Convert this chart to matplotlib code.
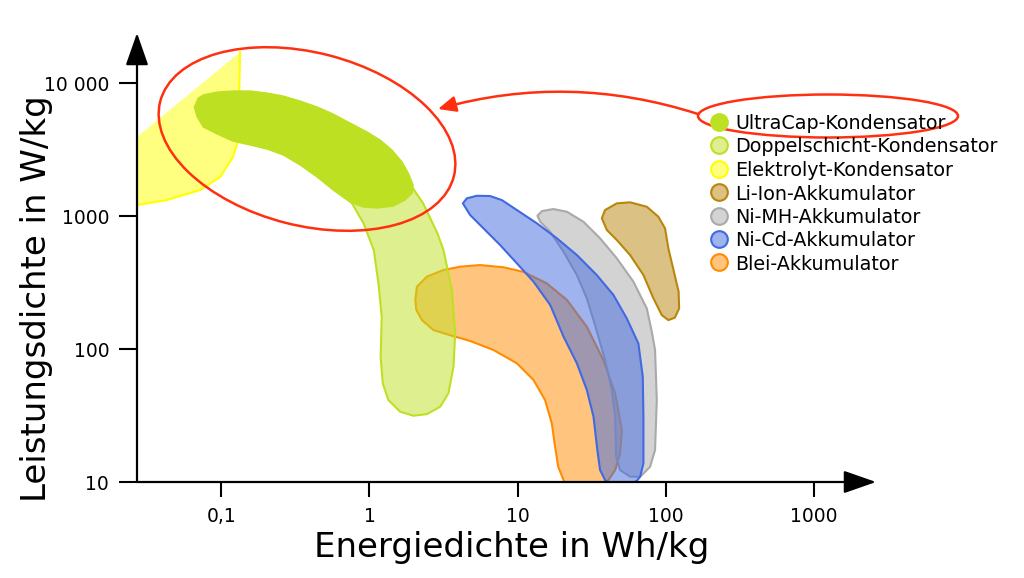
import matplotlib
matplotlib.use("Agg")
import matplotlib.pyplot as plt
from matplotlib.colors import to_rgba
from matplotlib.patches import Polygon, Ellipse, FancyArrowPatch

# Umrisse der Bereiche: Energiedichte (Wh/kg) und Leistungsdichte (W/kg)
ultracap_e = [0.0757, 0.094, 0.120, 0.157, 0.204, 0.262, 0.341, 0.445, 0.569,
              0.741, 0.966, 1.18, 1.42, 1.66, 1.83, 1.97, 1.94, 1.74, 1.45,
              1.13, 0.908, 0.741, 0.569, 0.445, 0.341, 0.262, 0.204, 0.157,
              0.120, 0.094, 0.0757, 0.0689, 0.0658, 0.070]
ultracap_p = [8130, 8560, 8710, 8710, 8410, 7980, 7320, 6600, 5850, 5000,
              4280, 3730, 3130, 2550, 2100, 1710, 1490, 1320, 1190, 1150,
              1170, 1270, 1570, 1960, 2420, 2880, 3190, 3420, 3660, 4140,
              4670, 5550, 6600, 7710]

doppel_e = [0.34, 0.867, 1.49, 1.74, 1.94, 2.30, 2.87, 3.16, 3.60, 3.79,
            3.69, 3.41, 3.00, 2.44, 1.98, 1.61, 1.34, 1.23, 1.19, 1.21, 1.15,
            1.07, 0.91, 0.74, 0.543, 0.398]
doppel_p = [5270, 3730, 2420, 2030, 1650, 1250, 745, 555, 278, 131, 73.6,
            46.4, 36.8, 32.4, 31.5, 33.8, 41.4, 55.2, 87.5, 175, 312, 555,
            886, 1320, 1870, 2640]

# die ersten sieben Punkte bilden den sichtbaren Rand
elko_e = [0.027, 0.043, 0.072, 0.098, 0.12, 0.13, 0.134, 0.027]
elko_p = [1210, 1320, 1570, 1960, 2780, 3730, 17100, 3930]

liion_e = [37.0, 38.9, 46.7, 57.4, 74.4, 89.1, 98.8, 104, 112, 122, 123, 115,
           104, 93.9, 82.4, 70.6, 57.4, 46.7, 40.0]
liion_p = [961, 1110, 1246, 1268, 1175, 988, 808, 572, 404, 270, 202, 172,
           165, 180, 241, 360, 509, 660, 785]

nimh_e = [13.6, 14.6, 17.4, 21.5, 27.8, 36.0, 46.7, 60.4, 74.4, 80.4, 84.6,
          86.9, 84.6, 78.3, 67.1, 57.4, 49.1, 46.2, 45.5, 43.2, 38.9, 33.3,
          29.3, 25.1, 20.4, 16.6, 14.2]
nimh_p = [1005, 1090, 1129, 1077, 906, 680, 481, 321, 202, 135, 98.3, 41.4,
          17.4, 13.0, 10.96, 10.96, 12.3, 15.5, 31.0, 49.2, 82.7, 151, 241,
          360, 539, 762, 906]

nicd_e = [4.27, 4.54, 5.31, 6.52, 7.82, 9.88, 13.5, 18.4, 25.1, 34.2, 44.3,
          54.5, 65.3, 69.9, 70.6, 70.6, 67.1, 63.7, 57.4, 42.1, 38.9, 36.0,
          34.5, 32.5, 29.3, 25.1, 20.4, 16.6, 12.8, 9.88, 7.62, 5.88, 4.78]
nicd_p = [1246, 1359, 1421, 1414, 1319, 1110, 881, 680, 509, 360, 255, 170,
          110, 61.9, 31.0, 13.8, 10.96, 10.2, 9.66, 9.66, 10.35, 12.3, 17.4,
          31.0, 49.2, 78.1, 124, 214, 321, 441, 605, 808, 1018]

blei_e = [2.04, 2.09, 2.44, 3.16, 4.09, 5.58, 8.02, 10.9, 15.7, 21.5, 29.3,
          37.9, 45.5, 50.5, 49.1, 45.5, 41.0, 38.9, 20.9, 20.4, 18.8, 17.9,
          17.0, 15.3, 12.8, 9.88, 6.87, 4.78, 3.50, 2.70, 2.26, 2.07]
blei_p = [234, 294, 350, 393, 416, 428, 412, 381, 312, 234, 147, 82.7, 46.4,
          24.6, 16.4, 12.3, 10.35, 9.66, 9.66, 10.35, 13.0, 18.4, 27.6, 41.4,
          58.5, 78.1, 98.3, 115, 127, 139, 165, 197]

labels = ["UltraCap-Kondensator", "Doppelschicht-Kondensator",
          "Elektrolyt-Kondensator", "Li-Ion-Akkumulator", "Ni-MH-Akkumulator",
          "Ni-Cd-Akkumulator", "Blei-Akkumulator"]

x_ticks = [0.1, 1, 10, 100, 1000]
x_ticklabels = ["0,1", "1", "10", "100", "1000"]
y_ticks = [10, 100, 1000, 10000]
y_ticklabels = ["10", "100", "1000", "10 000"]

# Farben: Rand voll, Fläche halbtransparent
green = "#bee022"
edges = [green, green, "#ffff00", "#b8860b", "#a9a9a9", "#4169e1", "#ff8c00"]
red = "#ff3010"

fig = plt.figure(figsize=(10.24, 5.78), dpi=100)
ax = fig.add_axes([137 / 1024, 96 / 578, 739 / 1024, 449 / 578])
ax.set_xscale("log")
ax.set_yscale("log")
ax.set_xlim(0.027, 2620)
ax.set_ylim(10, 23800)


def shape(e, p, edge, z):
    ax.add_patch(Polygon(list(zip(e, p)), closed=True,
                         facecolor=to_rgba(edge, 0.5), edgecolor=edge,
                         lw=1.5, joinstyle="round", zorder=z))


# Elektrolyt: Fläche ohne Rand an der Diagonale
ax.add_patch(Polygon(list(zip(elko_e, elko_p)), closed=True,
                     facecolor=to_rgba(edges[2], 0.5), edgecolor="none",
                     zorder=1))
ax.plot(elko_e[:7], elko_p[:7], color=edges[2], lw=1.5, zorder=1)

shape(blei_e, blei_p, edges[6], 2)
shape(nimh_e, nimh_p, edges[4], 3)
shape(nicd_e, nicd_p, edges[5], 4)
shape(liion_e, liion_p, edges[3], 4)
shape(doppel_e, doppel_p, edges[1], 5)
ax.add_patch(Polygon(list(zip(ultracap_e, ultracap_p)), closed=True,
                     facecolor=green, edgecolor=green, lw=1,
                     joinstyle="round", zorder=6))

for s in ax.spines.values():
    s.set_visible(False)
ax.set_xticks(x_ticks)
ax.set_xticklabels(x_ticklabels)
ax.set_yticks(y_ticks)
ax.set_yticklabels(y_ticklabels)
ax.minorticks_off()
ax.tick_params(axis="x", length=11, width=1.5, pad=7, labelsize=13.5)
ax.tick_params(axis="y", length=13, width=1.5, pad=7, labelsize=13.5)

arrow = dict(arrowstyle="-|>,head_length=1.0,head_width=0.35",
             mutation_scale=20, color="black", lw=1.6, shrinkA=0, shrinkB=0)
ax.annotate("", xy=(1, 0), xytext=(0, 0), xycoords="axes fraction",
            arrowprops=arrow, zorder=10)
ax.annotate("", xy=(0, 1), xytext=(0, 0), xycoords="axes fraction",
            arrowprops=arrow, zorder=10)

fig.text(37 / 1024, 1 - 299 / 578, "Leistungsdichte in W/kg", rotation=90,
         ha="center", va="center", fontsize=24.5)
fig.text(512 / 1024, 1 - 548 / 578, "Energiedichte in Wh/kg",
         ha="center", va="center", fontsize=24.5)

# Überlagerung in Pixelkoordinaten für Legende und Markierungen
ov = fig.add_axes([0, 0, 1, 1], zorder=5)
ov.set_xlim(0, 1024)
ov.set_ylim(578, 0)
ov.axis("off")
ov.patch.set_alpha(0)

for i, (lab, edge) in enumerate(zip(labels, edges)):
    face = green if i == 0 else to_rgba(edge, 0.5)
    ov.plot(719, 122 + 23.4 * i, "o", ms=12, mfc=face, mec=edge, mew=1.5)
    ov.text(735, 129 + 23.5 * i, lab, fontsize=13.8, va="baseline")

ov.add_patch(Ellipse((307, 139), 303, 173, angle=14.3, fill=False,
                     edgecolor=red, lw=1.8))
ov.add_patch(Ellipse((828, 116), 260, 43, fill=False, edgecolor=red, lw=1.8))
ov.add_patch(FancyArrowPatch((698, 114), (438, 109),
                             connectionstyle="arc3,rad=0.15",
                             arrowstyle="-|>,head_length=0.9,head_width=0.4",
                             mutation_scale=12, color=red, lw=1.8,
                             shrinkA=0, shrinkB=0))

fig.savefig("out.png", dpi=100, facecolor="white")
